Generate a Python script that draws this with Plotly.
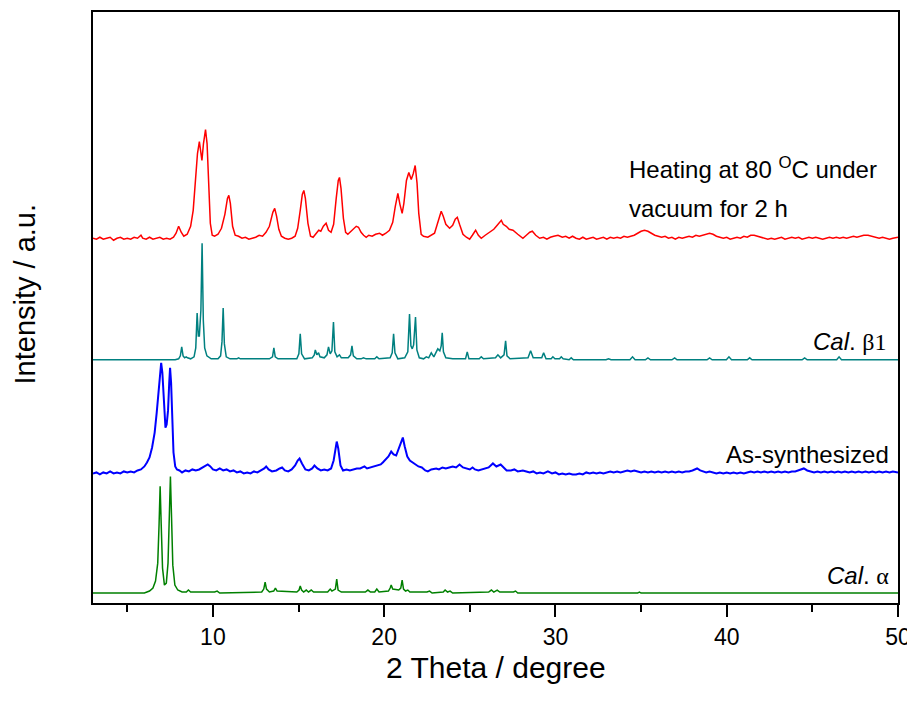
import plotly.graph_objects as go

# ---------------- data (2 theta, intensity above each pattern's baseline) ----------------
heated = [(3.0,0),(3.2,-1),(3.4,1),(3.6,-1),(3.8,0),(4.0,1),(4.2,-2),(4.4,0),(4.6,1),(4.8,-1),(5.0,0),(5.2,-1),(5.4,1),(5.6,0),(5.8,3),(5.9,0),(6.1,-1),(6.3,1),(6.5,-1),(6.7,0),(6.9,1),(7.1,-1),(7.3,0),(7.5,-1),(7.7,1),(7.85,5),(8.0,12),(8.15,6),(8.3,2),(8.5,4),(8.7,12),(8.85,28),(9.0,60),(9.1,85),(9.21,97),(9.3,84),(9.36,78),(9.45,95),(9.57,109),(9.66,95),(9.75,55),(9.85,15),(9.96,3),(10.1,2),(10.3,4),(10.5,10),(10.7,24),(10.85,40),(10.93,43),(11.02,35),(11.15,12),(11.3,3),(11.5,2),(11.7,0),(11.9,1),(12.1,-1),(12.3,0),(12.5,1),(12.7,3),(12.9,2),(13.1,6),(13.3,12),(13.5,26),(13.61,30),(13.72,22),(13.85,9),(14.0,2),(14.2,0),(14.4,-1),(14.6,0),(14.8,2),(14.95,10),(15.1,28),(15.22,44),(15.31,48),(15.4,40),(15.55,15),(15.7,2),(15.85,1),(16.0,4),(16.18,8),(16.3,7),(16.45,12),(16.61,15),(16.75,8),(16.9,6),(17.05,14),(17.2,40),(17.32,58),(17.39,61),(17.48,50),(17.62,20),(17.75,6),(17.88,4),(18.05,7),(18.2,10),(18.37,12),(18.5,11),(18.65,6),(18.8,3),(18.95,1),(19.1,3),(19.3,2),(19.5,4),(19.73,5),(19.9,3),(20.1,5),(20.31,8),(20.5,16),(20.65,32),(20.8,45),(20.92,34),(21.05,25),(21.15,35),(21.3,58),(21.44,66),(21.58,59),(21.7,65),(21.81,73),(21.92,55),(22.02,25),(22.16,4),(22.3,2),(22.55,1),(22.75,3),(22.94,5),(23.1,14),(23.25,24),(23.33,27),(23.45,22),(23.6,14),(23.82,10),(24.0,13),(24.15,19),(24.27,21),(24.4,14),(24.6,4),(24.8,1),(24.99,-1),(25.15,3),(25.34,8),(25.5,3),(25.67,0),(25.9,3),(26.16,6),(26.4,9),(26.6,13),(26.84,18),(26.95,14),(27.13,12),(27.3,9),(27.52,8),(27.8,4),(28.1,0),(28.3,3),(28.5,6),(28.65,7),(28.85,3),(29.08,0),(29.3,1),(29.5,-1),(29.7,1),(29.9,2),(30.15,3),(30.4,1),(30.6,2),(30.8,0),(31.0,2),(31.2,0),(31.4,-1),(31.6,1),(31.8,-1),(32.0,0),(32.2,1),(32.4,-1),(32.6,0),(32.8,1),(33.0,-1),(33.2,1),(33.4,0),(33.6,1),(33.8,0),(34.0,2),(34.2,1),(34.4,2),(34.6,3),(34.8,5),(35.0,7),(35.2,8),(35.4,7),(35.6,5),(35.8,3),(36.0,2),(36.2,1),(36.4,2),(36.6,0),(36.8,1),(37.0,-1),(37.2,1),(37.4,0),(37.6,1),(37.8,2),(38.0,1),(38.2,3),(38.4,2),(38.6,3),(38.8,4),(39.0,5),(39.2,4),(39.4,2),(39.6,1),(39.8,0),(40.0,1),(40.2,-1),(40.4,0),(40.6,1),(40.8,0),(41.0,2),(41.2,1),(41.4,3),(41.6,3),(41.8,2),(42.0,1),(42.2,0),(42.4,-1),(42.6,0),(42.8,-1),(43.0,0),(43.2,1),(43.4,-1),(43.6,0),(43.8,1),(44.0,0),(44.2,1),(44.4,-1),(44.6,0),(44.8,1),(45.0,0),(45.2,1),(45.4,0),(45.6,-1),(45.8,0),(46.0,1),(46.2,0),(46.4,1),(46.6,0),(46.8,1),(47.0,0),(47.2,1),(47.4,2),(47.6,1),(47.8,2),(48.0,3),(48.25,3),(48.5,2),(48.7,1),(48.9,0),(49.1,1),(49.3,0),(49.5,-1),(49.7,0),(50.0,1)]

cal_beta1 = [(3.0,0),(7.8,0),(8.0,1),(8.1,4),(8.18,13),(8.26,4),(8.35,2),(8.44,3),(8.52,2),(8.7,1),(8.9,3),(9.0,12),(9.08,47),(9.15,24),(9.21,24),(9.3,50),(9.37,117),(9.44,40),(9.52,12),(9.65,4),(9.9,1),(10.3,1),(10.45,4),(10.53,18),(10.6,52),(10.67,16),(10.78,3),(11.0,1),(11.4,1),(11.5,2),(11.6,1),(13.3,1),(13.48,3),(13.56,12),(13.64,3),(13.8,1),(14.9,1),(15.02,6),(15.1,26),(15.18,6),(15.35,1),(15.8,2),(15.92,5),(15.98,10),(16.07,5),(16.17,7),(16.25,3),(16.5,2),(16.66,5),(16.75,13),(16.85,6),(16.95,9),(17.04,38),(17.12,8),(17.25,3),(17.39,5),(17.5,2),(17.9,2),(18.04,5),(18.12,14),(18.2,4),(18.4,1),(18.65,1),(18.79,2),(18.95,1),(19.45,1),(19.57,3),(19.7,1),(20.35,2),(20.47,7),(20.55,26),(20.63,7),(20.8,1),(21.2,2),(21.38,8),(21.48,46),(21.56,14),(21.64,11),(21.72,15),(21.83,43),(21.91,10),(22.05,2),(22.3,1),(22.46,3),(22.6,2),(22.75,7),(22.9,3),(23.05,8),(23.13,11),(23.25,9),(23.33,14),(23.39,27),(23.46,8),(23.6,2),(24.0,1),(24.75,1),(24.85,8),(24.95,1),(25.55,1),(25.67,3),(25.8,1),(26.5,2),(26.64,5),(26.8,2),(27.0,5),(27.09,19),(27.17,4),(27.35,1),(28.4,2),(28.55,9),(28.7,2),(29.2,2),(29.31,7),(29.45,1),(29.75,1),(29.85,3),(29.97,1),(30.24,1),(30.34,3),(30.45,1),(30.8,0),(30.92,2),(31.05,0),(32.95,0),(33.1,1),(33.25,0),(34.35,0),(34.5,3),(34.65,0),(35.25,0),(35.4,2),(35.55,0),(36.8,0),(36.96,2),(37.1,0),(38.85,0),(39.0,2),(39.15,0),(39.98,0),(40.13,3),(40.28,0),(41.2,0),(41.34,2),(41.48,0),(44.4,0),(44.55,2),(44.7,0),(46.42,0),(46.56,3),(46.7,0),(50.0,0)]

as_synth = [(3.0,-1),(3.2,0),(3.4,-2),(3.6,0),(3.8,-1),(4.0,1),(4.2,-1),(4.4,0),(4.6,-1),(4.8,1),(5.0,0),(5.2,1),(5.4,0),(5.6,2),(5.8,3),(6.0,6),(6.15,10),(6.3,15),(6.45,25),(6.6,40),(6.72,60),(6.83,85),(6.92,104),(6.98,110),(7.05,100),(7.13,75),(7.23,45),(7.3,48),(7.38,62),(7.45,90),(7.5,105),(7.56,90),(7.63,48),(7.7,20),(7.8,6),(7.9,3),(8.05,2),(8.2,0),(8.4,2),(8.6,1),(8.8,3),(9.0,2),(9.2,3),(9.4,5),(9.55,7),(9.7,8),(9.85,6),(10.0,3),(10.2,2),(10.4,4),(10.6,2),(10.8,3),(11.0,1),(11.2,2),(11.4,0),(11.6,1),(11.8,-1),(12.0,0),(12.2,-1),(12.4,1),(12.6,0),(12.8,2),(13.0,4),(13.11,6),(13.25,3),(13.45,1),(13.7,2),(13.9,4),(14.04,5),(14.2,2),(14.4,1),(14.6,3),(14.8,7),(14.95,12),(15.06,14),(15.2,9),(15.4,3),(15.6,2),(15.8,4),(15.93,7),(16.1,4),(16.3,2),(16.5,3),(16.7,2),(16.9,4),(17.05,12),(17.15,25),(17.23,31),(17.32,24),(17.45,7),(17.6,2),(17.8,3),(18.0,2),(18.2,3),(18.4,4),(18.6,4),(18.85,6),(19.0,4),(19.2,5),(19.4,6),(19.6,7),(19.8,8),(19.92,10),(20.1,13),(20.25,16),(20.41,21),(20.55,18),(20.7,17),(20.85,24),(21.0,32),(21.09,35),(21.2,26),(21.35,16),(21.5,12),(21.67,10),(21.8,8),(22.0,6),(22.2,5),(22.4,2),(22.55,1),(22.75,3),(23.04,4),(23.2,3),(23.4,5),(23.6,4),(23.8,5),(24.0,6),(24.2,5),(24.4,8),(24.6,5),(24.8,4),(25.0,3),(25.16,5),(25.3,3),(25.5,2),(25.7,3),(25.9,4),(26.1,5),(26.35,9),(26.55,6),(26.8,8),(26.95,5),(27.15,2),(27.4,2),(27.6,3),(27.8,1),(28.1,2),(28.3,1),(28.5,0),(28.7,1),(28.9,-1),(29.1,0),(29.3,-1),(29.56,1),(29.8,-1),(30.0,0),(30.2,-2),(30.4,-1),(30.6,-2),(30.8,-1),(31.0,-2),(31.2,-2),(31.4,-1),(31.6,-2),(31.8,0),(32.0,-1),(32.2,0),(32.4,-1),(32.6,0),(32.8,-1),(33.0,0),(33.2,1),(33.4,0),(33.6,1),(33.8,0),(34.0,1),(34.2,2),(34.4,1),(34.6,2),(34.8,1),(35.0,0),(35.2,1),(35.4,0),(35.6,1),(35.8,0),(36.0,1),(36.2,0),(36.4,1),(36.6,0),(36.8,1),(37.0,0),(37.2,1),(37.4,0),(37.6,1),(37.8,1),(38.0,2),(38.27,4),(38.45,2),(38.6,1),(38.8,0),(39.0,1),(39.2,0),(39.4,-1),(39.6,0),(39.8,-1),(40.0,0),(40.2,-1),(40.4,0),(40.6,-1),(40.8,0),(41.0,-1),(41.2,0),(41.4,1),(41.6,0),(41.8,1),(42.0,0),(42.2,1),(42.4,0),(42.6,1),(42.8,0),(43.0,1),(43.2,0),(43.4,1),(43.6,0),(43.8,1),(44.0,1),(44.2,2),(44.5,4),(44.7,2),(44.9,1),(45.1,0),(45.3,1),(45.5,0),(45.7,1),(45.9,0),(46.1,1),(46.3,0),(46.5,1),(46.7,0),(46.9,1),(47.1,0),(47.3,1),(47.5,0),(47.7,1),(47.9,0),(48.1,1),(48.3,0),(48.5,1),(48.7,0),(48.9,1),(49.1,0),(49.3,1),(49.5,0),(49.7,1),(50.0,0)]

cal_alpha = [(3.0,0),(6.0,0),(6.3,2),(6.5,5),(6.65,12),(6.78,30),(6.86,70),(6.92,107),(6.98,70),(7.06,25),(7.17,8),(7.28,10),(7.38,30),(7.46,80),(7.52,117),(7.58,80),(7.66,28),(7.78,8),(7.95,3),(8.2,1),(8.45,1),(8.57,3),(8.7,1),(10.1,1),(10.25,2),(10.4,0),(12.85,1),(12.97,4),(13.05,11),(13.13,4),(13.3,1),(13.55,2),(13.65,5),(13.75,2),(14.9,1),(15.03,3),(15.1,7),(15.18,3),(15.3,1),(15.45,3),(15.58,1),(15.74,3),(15.88,1),(16.7,1),(16.85,4),(16.95,2),(17.15,4),(17.23,14),(17.31,3),(17.5,1),(18.9,1),(19.05,3),(19.2,1),(19.45,1),(19.57,4),(19.7,1),(20.25,2),(20.35,5),(20.41,8),(20.5,4),(20.85,3),(20.97,5),(21.05,13),(21.13,4),(21.25,2),(21.38,3),(21.5,1),(22.5,1),(22.65,2),(22.8,0),(23.45,1),(23.56,3),(23.7,1),(23.85,2),(24.0,0),(26.1,1),(26.26,3),(26.4,1),(26.6,3),(26.75,1),(27.55,1),(27.67,2),(27.8,0),(34.8,0),(34.9,1),(35.0,0),(50.0,0)]

series_names = ["Heating at 80 °C under vacuum for 2 h", "Cal. β1", "As-synthesized", "Cal. α"]
offsets = [366, 244, 131, 10]
colors = ["#FF0000", "#008080", "#0000FF", "#008000"]
x_tick_vals = [10, 20, 30, 40, 50]
x_tick_text = ["10", "20", "30", "40", "50"]

FONT = "Liberation Sans, Arial, sans-serif"

fig = go.Figure()
for data, name, off, col, w in zip([heated, cal_beta1, as_synth, cal_alpha], series_names, offsets, colors, [1.5, 1.5, 2, 1.5]):
    xs = [p[0] for p in data]
    ys = [p[1] + off for p in data]
    fig.add_trace(go.Scatter(x=xs, y=ys, mode="lines", name=name,
                             line=dict(color=col, width=w), showlegend=False))

# page body has an 8 px margin, so the figure is drawn 8 px smaller and the margins shifted
fig.update_layout(
    width=907, height=696,
    margin=dict(l=85, r=17, t=2, b=101),
    paper_bgcolor="white", plot_bgcolor="white",
    font=dict(family=FONT, color="black"),
)
fig.update_xaxes(range=[3, 50], tickvals=x_tick_vals, ticktext=x_tick_text,
                 ticks="outside", ticklen=12, tickwidth=2, tickcolor="black",
                 minor=dict(tickvals=[5, 15, 25, 35, 45], ticks="outside", ticklen=7, tickwidth=2, tickcolor="black"),
                 showline=True, linewidth=2, linecolor="black", mirror=True,
                 showgrid=False, zeroline=False, tickfont=dict(size=23, family=FONT))
fig.update_yaxes(range=[0, 593], showticklabels=False, ticks="",
                 showline=True, linewidth=2, linecolor="black", mirror=True,
                 showgrid=False, zeroline=False)

ann = []
ann.append(dict(text="2 Theta / degree", xref="paper", yref="paper", x=0.5, y=-0.109,
                showarrow=False, font=dict(size=30, family=FONT), xanchor="center", yanchor="middle"))
ann.append(dict(text="Intensity / a.u.", xref="paper", yref="paper", x=-0.085, y=0.523, textangle=-90,
                showarrow=False, font=dict(size=29, family=FONT), xanchor="center", yanchor="middle"))
ann.append(dict(text="Heating at 80 <sup>O</sup>C under", x=34.17, y=436, xanchor="left", yanchor="middle",
                showarrow=False, font=dict(size=24, family=FONT)))
ann.append(dict(text="vacuum for 2 h", x=34.17, y=396, xanchor="left", yanchor="middle",
                showarrow=False, font=dict(size=24, family=FONT)))
ann.append(dict(text="<i>Cal</i>. <span style='font-family:Liberation Serif'>β1</span>", x=49.45, y=262,
                xanchor="right", yanchor="middle", showarrow=False, font=dict(size=24, family=FONT)))
ann.append(dict(text="As-synthesized", x=49.6, y=149, xanchor="right", yanchor="middle",
                showarrow=False, font=dict(size=24, family=FONT)))
ann.append(dict(text="<i>Cal</i>. <span style='font-family:Liberation Serif'>α</span>", x=49.6, y=28,
                xanchor="right", yanchor="middle", showarrow=False, font=dict(size=24, family=FONT)))
fig.update_layout(annotations=ann)

fig.write_html("out.html")
